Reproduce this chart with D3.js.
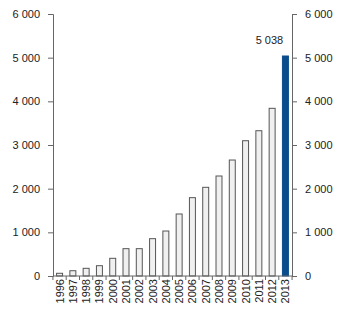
<!DOCTYPE html>
<html><head><meta charset="utf-8">
<script src="https://cdn.jsdelivr.net/npm/d3@7"></script>
<style>body{margin:0;background:#fff}svg{display:block}text{font-family:"Liberation Sans",Arial,sans-serif;font-size:11px;fill:#222}</style>
</head><body>
<script>
const years = ["1996","1997","1998","1999","2000","2001","2002","2003","2004","2005","2006","2007","2008","2009","2010","2011","2012","2013"];
const values = [62,121,176,236,405,626,626,855,1030,1420,1794,2031,2290,2656,3098,3327,3840,5038];
const yTicks = [0,1000,2000,3000,4000,5000,6000];
const highlight = "2013";
const labelText = "5 038";

const W=345,H=323;
const svg=d3.select("body").append("svg").attr("width",W).attr("height",H);
const x=d3.scaleBand().domain(years).range([53,292]).paddingInner(0.55).paddingOuter(0.27);
const y=d3.scaleLinear().domain([0,6000]).range([276,14]);
const fmt=d=>d3.format(",")(d).replace(/,/g," ");
const axisCol="#666";

// bars
svg.selectAll("rect.bar").data(years).enter().append("rect")
  .attr("x",d=>x(d)).attr("width",x.bandwidth())
  .attr("y",(d,i)=>y(values[i])).attr("height",(d,i)=>y(0)-y(values[i]))
  .attr("fill",d=>d===highlight?"#0b4d8c":"#f0f0f0")
  .attr("stroke",d=>d===highlight?"#0b4d8c":"#555").attr("stroke-width",1);

// left axis
const la=svg.append("g").attr("transform","translate(53,0)").call(d3.axisLeft(y).tickValues(yTicks).tickFormat(fmt).tickSize(5).tickPadding(8));
const ra=svg.append("g").attr("transform","translate(292,0)").call(d3.axisRight(y).tickValues(yTicks).tickFormat(fmt).tickSize(5).tickPadding(8));
[la,ra].forEach(g=>{g.select(".domain").attr("stroke",axisCol);g.selectAll(".tick line").attr("stroke",axisCol);g.selectAll("text").attr("font-size",11).attr("font-family","Liberation Sans, Arial, sans-serif").attr("fill","#222");});

// x axis
const xa=svg.append("g").attr("transform","translate(0,276)");
xa.append("line").attr("x1",53).attr("x2",292).attr("stroke",axisCol);
const bounds=years.map(d=>x(d)-x.step()*x.paddingInner()/2).concat([x(years[years.length-1])+x.bandwidth()+x.step()*x.paddingInner()/2]);
xa.selectAll("line.t").data(bounds).enter().append("line").attr("x1",d=>d).attr("x2",d=>d).attr("y1",0).attr("y2",4).attr("stroke",axisCol);
xa.selectAll("text").data(years).enter().append("text")
  .attr("transform",d=>`translate(${x(d)+x.bandwidth()/2+4},3) rotate(-90)`)
  .attr("text-anchor","end").text(d=>d);

// value label
svg.append("text").attr("x",x(highlight)+x.bandwidth()/2-16).attr("y",y(values[values.length-1])-12)
  .attr("text-anchor","middle").text(labelText);
</script>
</body></html>
